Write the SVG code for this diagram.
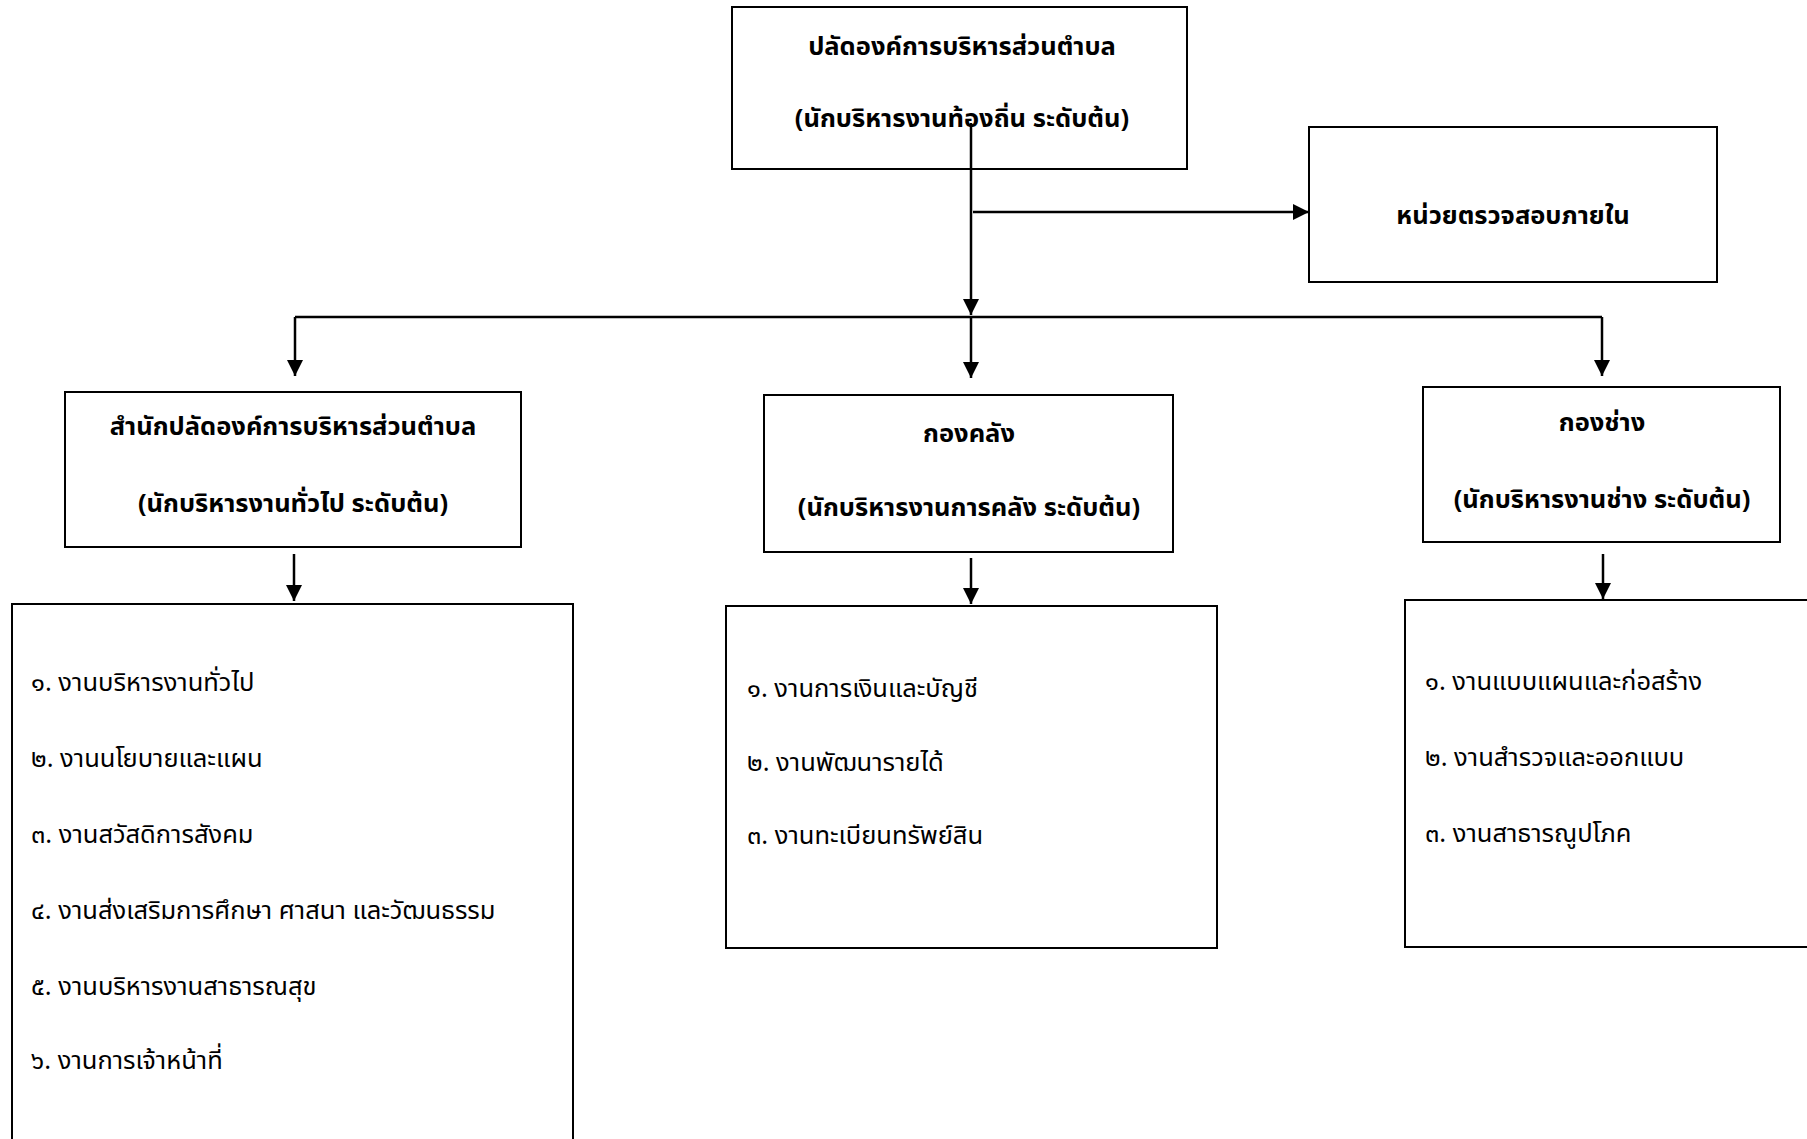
<svg xmlns="http://www.w3.org/2000/svg" width="1807" height="1139" viewBox="0 0 1807 1139">
<defs>
<marker id="ah" viewBox="0 0 10 10" refX="10" refY="5" markerWidth="16" markerHeight="16" markerUnits="userSpaceOnUse" orient="auto">
<path d="M0,0 L10,5 L0,10 z" fill="#000"/>
</marker>
<style>
.box{fill:#fff;stroke:#000;stroke-width:2}
.t{font-family:"Noto Sans Thai","Noto Sans","DejaVu Sans",sans-serif;font-size:25.5px;fill:#000}
.b{font-weight:bold;text-anchor:middle}
.c{fill:none;stroke:#000;stroke-width:2.5}
</style>
</defs>
<rect width="1807" height="1139" fill="#fff"/>
<g id="n-top">
<rect class="box" x="732" y="7" width="455" height="162"/>
<text class="t b" x="962" y="55">ปลัดองค์การบริหารส่วนตำบล</text>
<text class="t b" x="962" y="127">(นักบริหารงานท้องถิ่น ระดับต้น)</text>
</g>
<g id="n-audit">
<rect class="box" x="1309" y="127" width="408" height="155"/>
<text class="t b" x="1513" y="224">หน่วยตรวจสอบภายใน</text>
</g>
<g id="n-office">
<rect class="box" x="65" y="392" width="456" height="155"/>
<text class="t b" x="293" y="435">สำนักปลัดองค์การบริหารส่วนตำบล</text>
<text class="t b" x="293" y="512">(นักบริหารงานทั่วไป ระดับต้น)</text>
</g>
<g id="n-finance">
<rect class="box" x="764" y="395" width="409" height="157"/>
<text class="t b" x="969" y="442">กองคลัง</text>
<text class="t b" x="969" y="516">(นักบริหารงานการคลัง ระดับต้น)</text>
</g>
<g id="n-eng">
<rect class="box" x="1423" y="387" width="357" height="155"/>
<text class="t b" x="1602" y="431">กองช่าง</text>
<text class="t b" x="1602" y="508">(นักบริหารงานช่าง ระดับต้น)</text>
</g>
<g id="n-office-list">
<rect class="box" x="12" y="604" width="561" height="545"/>
<text class="t" x="31" y="691">๑. งานบริหารงานทั่วไป</text>
<text class="t" x="31" y="767">๒. งานนโยบายและแผน</text>
<text class="t" x="31" y="843">๓. งานสวัสดิการสังคม</text>
<text class="t" x="31" y="919">๔. งานส่งเสริมการศึกษา ศาสนา และวัฒนธรรม</text>
<text class="t" x="31" y="995">๕. งานบริหารงานสาธารณสุข</text>
<text class="t" x="31" y="1069">๖. งานการเจ้าหน้าที่</text>
</g>
<g id="n-finance-list">
<rect class="box" x="726" y="606" width="491" height="342"/>
<text class="t" x="747" y="697">๑. งานการเงินและบัญชี</text>
<text class="t" x="747" y="771">๒. งานพัฒนารายได้</text>
<text class="t" x="747" y="844">๓. งานทะเบียนทรัพย์สิน</text>
</g>
<g id="n-eng-list">
<rect class="box" x="1405" y="600" width="420" height="347"/>
<text class="t" x="1425" y="690">๑. งานแบบแผนและก่อสร้าง</text>
<text class="t" x="1425" y="766">๒. งานสำรวจและออกแบบ</text>
<text class="t" x="1425" y="842">๓. งานสาธารณูปโภค</text>
</g>
<g id="connectors">
<path class="c" d="M971,123 V315" marker-end="url(#ah)"/>
<path class="c" d="M973,212 H1309" marker-end="url(#ah)"/>
<path class="c" d="M295,317 H1602"/>
<path class="c" d="M295,317 V376" marker-end="url(#ah)"/>
<path class="c" d="M971,317 V378" marker-end="url(#ah)"/>
<path class="c" d="M1602,317 V376" marker-end="url(#ah)"/>
<path class="c" d="M294,554 V601" marker-end="url(#ah)"/>
<path class="c" d="M971,558 V604" marker-end="url(#ah)"/>
<path class="c" d="M1603,554 V599" marker-end="url(#ah)"/>
</g>
</svg>
